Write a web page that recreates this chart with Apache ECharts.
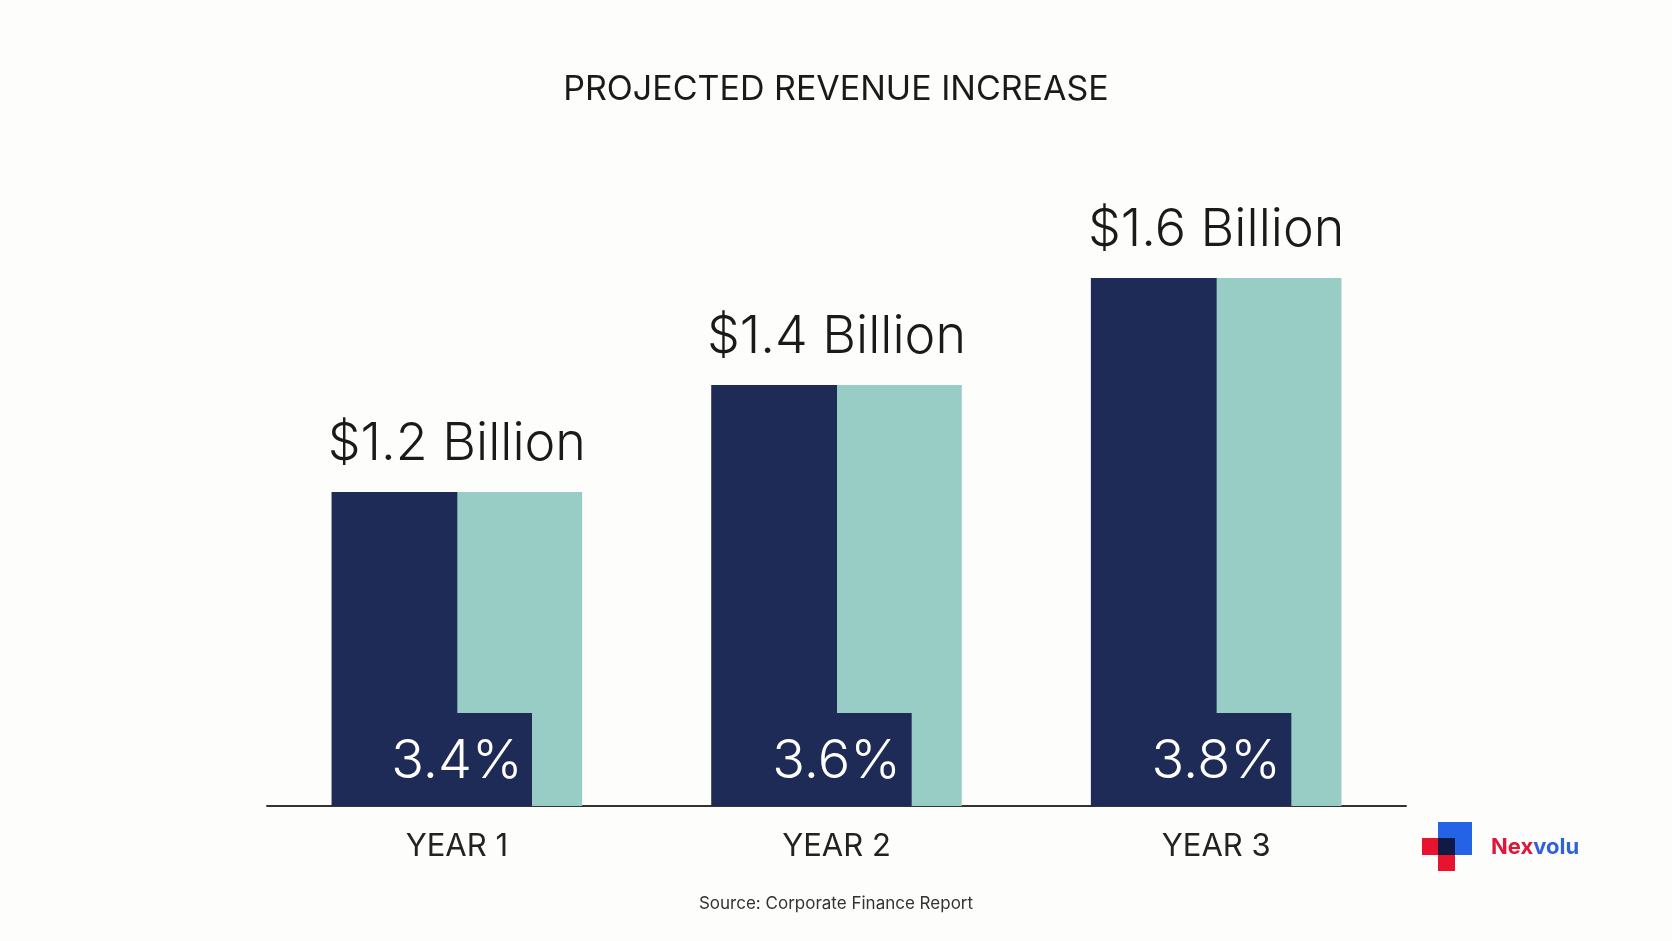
<!DOCTYPE html>
<html>
<head>
<meta charset="utf-8">
<script src="https://cdn.jsdelivr.net/npm/echarts@6/dist/echarts.min.js"></script>
<style>
html, body { margin: 0; padding: 0; background: #fdfdfb; }
#chart { width: 1672px; height: 941px; }
</style>
</head>
<body>
<div id="chart"></div>
<script>
// chart data
var categories = ['YEAR 1', 'YEAR 2', 'YEAR 3'];
var revenue = [1.2, 1.4, 1.6];
var revenueLabels = ['$1.2 Billion', '$1.4 Billion', '$1.6 Billion'];
var growth = ['3.4%', '3.6%', '3.8%'];

var DARK = '#1f2b57', TEAL = '#97cdc4';

var chart = echarts.init(document.getElementById('chart'));

function renderBar(params, api) {
	var idx = api.value(0);
	var top = api.coord([idx, api.value(1)]);
	var base = api.coord([idx, 0.613]);
	var band = api.size([1, 0])[0];
	var w = band * 0.33;
	var x0 = top[0] - w;
	var h = base[1] - top[1];
	var notchH = 93, notchW = w * 0.6;
	return {
		type: 'group',
		children: [
			{ type: 'rect', shape: { x: top[0], y: top[1], width: w, height: h }, style: { fill: TEAL } },
			{ type: 'rect', shape: { x: x0, y: top[1], width: w + 0.5, height: h }, style: { fill: DARK } },
			{ type: 'rect', shape: { x: top[0] - 1, y: base[1] - notchH, width: notchW + 1, height: notchH }, style: { fill: DARK } },
			{ type: 'text', x: top[0], y: top[1] - 48, style: {
				text: revenueLabels[idx], fill: '#1a1a1a', font: '300 52px Inter', align: 'center', verticalAlign: 'middle' } },
			{ type: 'text', x: top[0], y: base[1] - 44, style: {
				text: growth[idx], fill: '#ffffff', font: '300 54px Inter', align: 'center', verticalAlign: 'middle' } }
		]
	};
}

chart.setOption({
	backgroundColor: '#fdfdfb',
	animation: false,
	title: {
		text: 'PROJECTED REVENUE INCREASE',
		left: 'center',
		top: 68,
		textStyle: { fontFamily: 'Inter', fontWeight: 400, fontSize: 34, color: '#1a1a1a' }
	},
	grid: { left: 267, right: 266, top: 278, bottom: 135 },
	xAxis: {
		type: 'category',
		data: categories,
		axisTick: { show: false },
		axisLine: { lineStyle: { color: '#333', width: 2 } },
		axisLabel: { margin: 25, fontFamily: 'Inter', fontSize: 31, color: '#222' }
	},
	yAxis: { type: 'value', min: 0.613, max: 1.6, show: false, splitLine: { show: false } },
	series: [{
		type: 'custom',
		renderItem: renderBar,
		encode: { x: 0, y: 1 },
		data: revenue.map(function(v, i) { return [i, v]; }),
		z: 1
	}],
	graphic: [
		{ type: 'text', left: 'center', top: 895, style: { text: 'Source: Corporate Finance Report', fill: '#333', font: '17px Inter' } },
		{ type: 'rect', shape: { x: 1438, y: 822, width: 34, height: 33 }, style: { fill: '#2563e6' } },
		{ type: 'rect', shape: { x: 1422, y: 838, width: 16, height: 17 }, style: { fill: '#e8132f' } },
		{ type: 'rect', shape: { x: 1438, y: 855, width: 17, height: 16 }, style: { fill: '#e8132f' } },
		{ type: 'rect', shape: { x: 1438, y: 838, width: 17, height: 17 }, style: { fill: '#0f1a45' } },
		{ type: 'text', x: 1491, y: 847, style: { text: '{a|Nex}{b|volu}', verticalAlign: 'middle',
			rich: { a: { fill: '#e0163a', font: 'bold 22px Inter' }, b: { fill: '#2f62d9', font: 'bold 22px Inter' } } } }
	]
});
</script>
</body>
</html>
